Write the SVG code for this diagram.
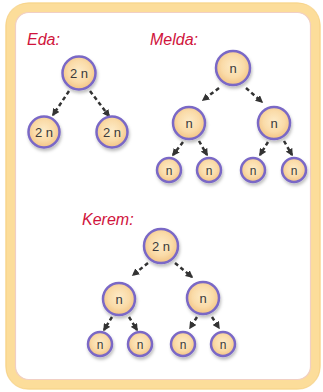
<svg xmlns="http://www.w3.org/2000/svg" width="323" height="392" viewBox="0 0 323 392">
<defs>
<radialGradient id="nodeFill" cx="50%" cy="45%" r="55%">
<stop offset="0" stop-color="#FDEBC8"/>
<stop offset="0.6" stop-color="#FADBA8"/>
<stop offset="1" stop-color="#F2C384"/>
</radialGradient>
<filter id="sh" x="-30%" y="-30%" width="160%" height="170%">
<feDropShadow dx="1" dy="2.5" stdDeviation="1.8" flood-color="#000" flood-opacity="0.25"/>
</filter>
<marker id="ah" viewBox="0 0 10 10" refX="8" refY="5" markerWidth="3" markerHeight="3" orient="auto" markerUnits="strokeWidth">
<path d="M0,0 L10,5 L0,10 z" fill="#333333"/>
</marker>
</defs>
<style>
.node circle{fill:url(#nodeFill);stroke:#7A68C6;stroke-width:2.5;filter:url(#sh)}
.node text{font-family:"Liberation Sans",Arial,sans-serif;font-size:13px;fill:#3a3a3a;text-anchor:middle}
.node.s text{font-size:12px}
.lbl{font-family:"Liberation Sans",Arial,sans-serif;font-style:italic;font-size:16px;fill:#D0143C}
#connectors line{stroke:#333333;stroke-width:2.5;stroke-dasharray:4 3;marker-end:url(#ah)}
</style>
<rect x="0" y="0" width="323" height="392" fill="#ffffff"/>
<g id="frame">
<rect x="10.5" y="7.5" width="305" height="377" rx="19" fill="#ffffff" stroke="#FCDD9A" stroke-width="10"/>
<rect x="6" y="3" width="314" height="386" rx="22" fill="none" stroke="#F5CF80" stroke-width="1.2" opacity="0.7"/>
<rect x="15.5" y="12.5" width="295" height="367" rx="13" fill="none" stroke="#F1CFC4" stroke-width="1.2"/>
</g>
<text class="lbl" x="27" y="45">Eda:</text>
<text class="lbl" x="150" y="45">Melda:</text>
<text class="lbl" x="82" y="225">Kerem:</text>
<g id="connectors">
<line x1="69" y1="91" x2="53" y2="115"/>
<line x1="90" y1="91" x2="109" y2="116"/>
<line x1="219" y1="88" x2="203" y2="100"/>
<line x1="246" y1="88" x2="262" y2="102"/>
<line x1="183" y1="142" x2="173" y2="155"/>
<line x1="199" y1="141" x2="207" y2="155"/>
<line x1="268" y1="142" x2="260" y2="155"/>
<line x1="284" y1="141" x2="292" y2="155"/>
<line x1="148" y1="263" x2="133" y2="275"/>
<line x1="175" y1="263" x2="192" y2="277"/>
<line x1="112" y1="317" x2="104" y2="330"/>
<line x1="129" y1="317" x2="137" y2="330"/>
<line x1="197" y1="317" x2="190" y2="328"/>
<line x1="212" y1="317" x2="219" y2="328"/>
</g>
<g id="eda-root" class="node"><circle cx="79" cy="73" r="16.5"/><text x="79" y="77.5">2 n</text></g>
<g id="eda-left" class="node"><circle cx="44" cy="132" r="15.5"/><text x="44" y="136.5">2 n</text></g>
<g id="eda-right" class="node"><circle cx="112" cy="132" r="15.5"/><text x="112" y="136.5">2 n</text></g>
<g id="melda-root" class="node"><circle cx="233" cy="68" r="17"/><text x="233" y="72.5">n</text></g>
<g id="melda-l" class="node"><circle cx="189" cy="123" r="16"/><text x="189" y="127.5">n</text></g>
<g id="melda-r" class="node"><circle cx="274" cy="123" r="16"/><text x="274" y="127.5">n</text></g>
<g id="melda-ll" class="node s"><circle cx="169" cy="170" r="12"/><text x="169" y="174.5">n</text></g>
<g id="melda-lr" class="node s"><circle cx="209" cy="170" r="12"/><text x="209" y="174.5">n</text></g>
<g id="melda-rl" class="node s"><circle cx="253" cy="170" r="12"/><text x="253" y="174.5">n</text></g>
<g id="melda-rr" class="node s"><circle cx="294" cy="170" r="12"/><text x="294" y="174.5">n</text></g>
<g id="kerem-root" class="node"><circle cx="161" cy="246" r="17"/><text x="161" y="250.5">2 n</text></g>
<g id="kerem-l" class="node"><circle cx="119" cy="299" r="16"/><text x="119" y="303.5">n</text></g>
<g id="kerem-r" class="node"><circle cx="203" cy="298" r="16"/><text x="203" y="302.5">n</text></g>
<g id="kerem-ll" class="node s"><circle cx="100" cy="344" r="12"/><text x="100" y="348.5">n</text></g>
<g id="kerem-lr" class="node s"><circle cx="140" cy="344" r="12"/><text x="140" y="348.5">n</text></g>
<g id="kerem-rl" class="node s"><circle cx="183" cy="344" r="12"/><text x="183" y="348.5">n</text></g>
<g id="kerem-rr" class="node s"><circle cx="223" cy="344" r="12"/><text x="223" y="348.5">n</text></g>
</svg>
